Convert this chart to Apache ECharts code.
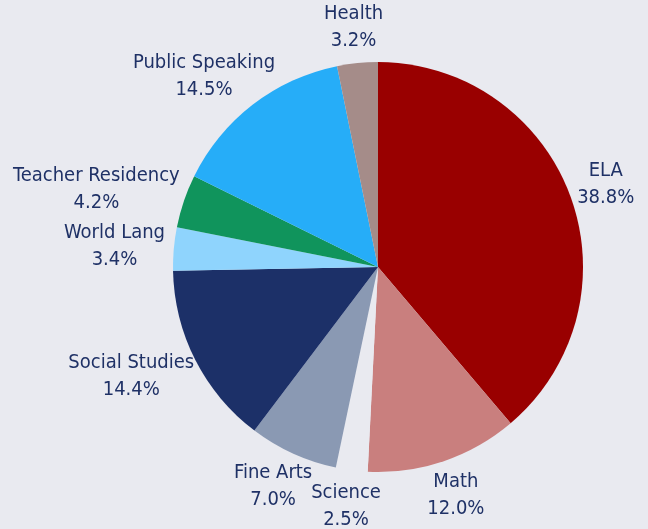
<!DOCTYPE html>
<html>
<head>
<meta charset="utf-8">
<script src="https://cdn.jsdelivr.net/npm/echarts@6/dist/echarts.min.js"></script>
<style>
  html, body { margin: 0; padding: 0; background: #e9eaf0; }
  #chart { width: 648px; height: 529px; }
</style>
</head>
<body>
<div id="chart"></div>
<script>
const categories = ["ELA", "Math", "Science", "Fine Arts", "Social Studies", "World Lang", "Teacher Residency", "Public Speaking", "Health"];
const shares = [38.8, 12.0, 2.5, 7.0, 14.4, 3.4, 4.2, 14.5, 3.2];
const sliceColors = ["#990000", "#c97f7e", "#e9eaf0", "#8a99b3", "#1c3068", "#8fd4fd", "#10945c", "#26adf8", "#a58c89"];

const CX = 378, CY = 267;
const chart = echarts.init(document.getElementById("chart"));

const pieData = categories.map((name, i) => ({
  name: name,
  value: shares[i],
  itemStyle: { color: sliceColors[i] }
}));

chart.setOption({
  backgroundColor: "#e9eaf0",
  animation: false,
  series: [
    {
      type: "pie",
      center: [CX, CY],
      radius: 205,
      startAngle: 90,
      clockwise: true,
      silent: true,
      data: pieData,
      label: { show: false },
      labelLine: { show: false }
    },
    {
      // transparent ring that only carries the labels
      type: "pie",
      center: [CX, CY],
      radius: [206, 216],
      startAngle: 90,
      clockwise: true,
      silent: true,
      data: categories.map((name, i) => ({ name: name, value: shares[i] })),
      itemStyle: { color: "transparent" },
      label: {
        show: true,
        position: "inside",
        formatter: p => p.name + "\n" + p.value.toFixed(1) + "%",
        color: "#1f3166",
        fontFamily: '"Liberation Sans Narrow", "DejaVu Sans Condensed", sans-serif',
        fontSize: 20,
        lineHeight: 27,
        align: "center"
      },
      labelLine: { show: false },
      labelLayout: function (p) {
        const r = p.labelRect;
        const mx = r.x + r.width / 2, my = r.y + r.height / 2;
        const vx = mx - CX, vy = my - CY;
        const d = Math.hypot(vx, vy) || 1;
        return { dx: vx / d * r.width / 2, dy: vy / d * r.height / 2 };
      }
    }
  ]
});
</script>
</body>
</html>
